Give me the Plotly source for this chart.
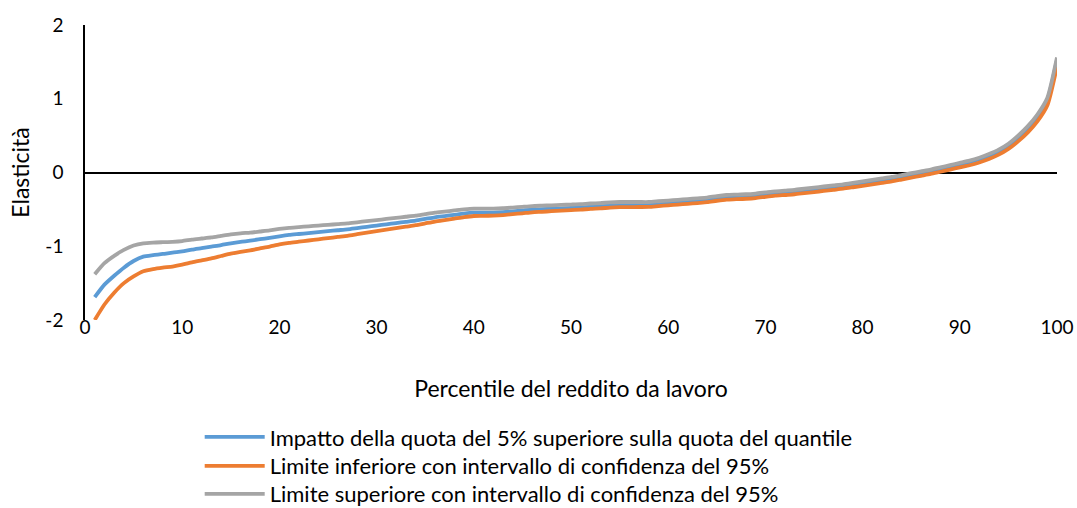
import plotly.graph_objects as go

# Percentiles of labour income
percentile = list(range(1, 101))

# Elasticity of quantile share to the top 5% share
impatto = [
    -1.69, -1.52, -1.40, -1.29, -1.20, -1.14, -1.12, -1.105, -1.085, -1.07,
    -1.045, -1.025, -1.005, -0.985, -0.96, -0.94, -0.925, -0.905, -0.885, -0.865,
    -0.847, -0.834, -0.821, -0.808, -0.795, -0.783, -0.771, -0.754, -0.737, -0.72,
    -0.703, -0.686, -0.669, -0.652, -0.63, -0.608, -0.591, -0.574, -0.557, -0.545,
    -0.544, -0.543, -0.537, -0.526, -0.515, -0.504, -0.498, -0.492, -0.486, -0.48,
    -0.474, -0.463, -0.457, -0.446, -0.44, -0.439, -0.438, -0.437, -0.426, -0.415,
    -0.405, -0.394, -0.384, -0.373, -0.353, -0.337, -0.332, -0.326, -0.316, -0.30,
    -0.285, -0.274, -0.264, -0.248, -0.233, -0.217, -0.202, -0.186, -0.166, -0.145,
    -0.125, -0.104, -0.084, -0.058, -0.033, -0.007, 0.018, 0.049, 0.079, 0.11,
    0.14, 0.179, 0.228, 0.287, 0.366, 0.475, 0.604, 0.763, 0.982, 1.53,
]

# Lower bound of the 95% confidence interval
limite_inferiore = [
    -2.00, -1.79, -1.63, -1.50, -1.41, -1.34, -1.31, -1.29, -1.275, -1.25,
    -1.218, -1.191, -1.164, -1.132, -1.10, -1.075, -1.055, -1.03, -1.005, -0.975,
    -0.954, -0.938, -0.922, -0.906, -0.89, -0.874, -0.858, -0.837, -0.816, -0.795,
    -0.775, -0.755, -0.735, -0.715, -0.69, -0.665, -0.645, -0.625, -0.605, -0.59,
    -0.588, -0.585, -0.578, -0.565, -0.553, -0.54, -0.533, -0.525, -0.518, -0.51,
    -0.504, -0.493, -0.487, -0.476, -0.47, -0.469, -0.468, -0.467, -0.456, -0.445,
    -0.435, -0.424, -0.414, -0.403, -0.383, -0.367, -0.362, -0.356, -0.346, -0.33,
    -0.315, -0.305, -0.295, -0.28, -0.265, -0.25, -0.235, -0.22, -0.20, -0.18,
    -0.16, -0.14, -0.12, -0.095, -0.07, -0.045, -0.02, 0.01, 0.04, 0.07,
    0.098, 0.136, 0.184, 0.242, 0.32, 0.422, 0.544, 0.696, 0.908, 1.44,
]

# Upper bound of the 95% confidence interval
limite_superiore = [
    -1.38, -1.23, -1.13, -1.05, -0.99, -0.96, -0.95, -0.945, -0.94, -0.93,
    -0.91, -0.895, -0.88, -0.86, -0.84, -0.825, -0.815, -0.80, -0.785, -0.765,
    -0.75, -0.74, -0.73, -0.72, -0.71, -0.70, -0.69, -0.675, -0.66, -0.645,
    -0.63, -0.615, -0.60, -0.585, -0.565, -0.545, -0.53, -0.515, -0.50, -0.49,
    -0.49, -0.49, -0.485, -0.475, -0.465, -0.455, -0.45, -0.445, -0.44, -0.435,
    -0.43, -0.42, -0.415, -0.405, -0.40, -0.40, -0.40, -0.40, -0.39, -0.38,
    -0.37, -0.36, -0.35, -0.34, -0.32, -0.305, -0.30, -0.295, -0.285, -0.27,
    -0.255, -0.245, -0.235, -0.22, -0.205, -0.19, -0.175, -0.16, -0.14, -0.12,
    -0.10, -0.08, -0.06, -0.035, -0.01, 0.015, 0.04, 0.07, 0.10, 0.13,
    0.16, 0.20, 0.25, 0.31, 0.39, 0.50, 0.63, 0.79, 1.01, 1.56,
]

# Axis ticks
x_ticks = [0, 10, 20, 30, 40, 50, 60, 70, 80, 90, 100]
y_ticks = [-2, -1, 0, 1, 2]
y_tick_labels = ["-2", "-1", "0", "1", "2"]

# name, values, colour, legend slot, vertical slot position (plot-relative)
series = [
    ("Impatto della quota del 5% superiore sulla quota del quantile", impatto, "#5B9BD5", "legend", -0.397),
    ("Limite inferiore con intervallo di confidenza del 95%", limite_inferiore, "#ED7D31", "legend2", -0.495),
    ("Limite superiore con intervallo di confidenza del 95%", limite_superiore, "#A5A5A5", "legend3", -0.590),
]

FONT = "Lato, Carlito, 'Open Sans', sans-serif"

fig = go.Figure()
legend_layouts = {}
for name, values, color, legend_id, legend_y in series:
    fig.add_trace(go.Scatter(
        x=percentile, y=values, name=name, mode="lines", legend=legend_id,
        line=dict(color=color, width=3.8, shape="spline", smoothing=0.6),
    ))
    legend_layouts[legend_id] = dict(
        orientation="v", x=0.118, xanchor="left", y=legend_y, yanchor="middle",
        font=dict(size=22), itemwidth=60, bgcolor="rgba(0,0,0,0)",
    )

fig.update_layout(
    width=1077, height=508,
    margin=dict(l=85, r=20, t=25, b=188, autoexpand=False),
    paper_bgcolor="white", plot_bgcolor="white",
    font=dict(family=FONT, size=19, color="#000000"),
    showlegend=True,
    **legend_layouts,
    xaxis=dict(
        range=[0, 100], tickmode="array", tickvals=x_ticks,
        showgrid=False, zeroline=False, showline=False, ticks="",
        ticklabelstandoff=-6, automargin=False,
        title=dict(text="Percentile del reddito da lavoro", standoff=43),
    ),
    yaxis=dict(
        range=[-2, 2], tickmode="array", tickvals=y_ticks, ticktext=y_tick_labels,
        showgrid=False, showline=True, linecolor="black", linewidth=1.5,
        zeroline=True, zerolinecolor="black", zerolinewidth=2,
        ticks="", ticklabelstandoff=16, automargin=False,
        title=dict(text="Elasticità", standoff=9),
    ),
)

fig.write_html("out.html")
